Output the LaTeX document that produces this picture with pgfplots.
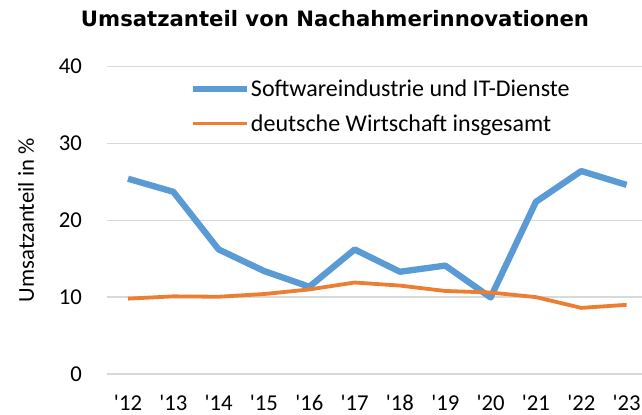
\documentclass[border=0pt]{standalone}
\usepackage{fontspec}
\setmainfont{Carlito}
\newfontfamily\titlefont{DejaVu Sans}
\usepackage{pgfplots}
\pgfplotsset{compat=1.18}
\definecolor{xlblue}{RGB}{91,155,213}
\definecolor{xlorange}{RGB}{237,125,49}
\definecolor{gridgray}{RGB}{217,217,217}
\begin{document}
\begin{tikzpicture}
\useasboundingbox (-106.7bp,-41bp) rectangle (535.3bp,374bp);
\begin{axis}[
  at={(0,0)}, anchor=south west,
  scale only axis, width=535.3bp, height=307.5bp,
  xmin=-0.47, xmax=11.34, ymin=0, ymax=40,
  axis line style={draw=none},
  tick style={draw=none},
  ytick={0,10,20,30,40},
  xtick={0,1,...,11},
  xticklabels={\textquotesingle12,\textquotesingle13,\textquotesingle14,\textquotesingle15,\textquotesingle16,\textquotesingle17,\textquotesingle18,\textquotesingle19,\textquotesingle20,\textquotesingle21,\textquotesingle22,\textquotesingle23},
  ymajorgrids,
  grid style={color=gridgray, line width=1.5bp},
  /pgf/number format/assume math mode=true,
  ticklabel style={font=\fontsize{22.7bp}{27bp}\selectfont, inner sep=0pt},
  yticklabel style={anchor=east, xshift=-24.7bp},
  xticklabel style={anchor=north, yshift=-21bp},
  every axis y label/.style={at={(axis description cs:-0.1508,0.5)}, rotate=90, anchor=center, inner sep=0pt, font=\fontsize{22.7bp}{27bp}\selectfont},
  ylabel={Umsatzanteil in \%},
  title={\titlefont\bfseries Umsatzanteil von Nachahmerinnovationen},
  every axis title/.style={at={(axis description cs:0.4265,1)}, anchor=base, yshift=40.5bp, inner sep=0pt, font=\fontsize{21.2bp}{25bp}\selectfont},
  legend style={at={(axis description cs:0.1556,0.958)}, anchor=north west, draw=none, fill=none, inner sep=0pt, row sep=16.6bp,
    font=\fontsize{24bp}{28bp}\selectfont, nodes={inner sep=0pt}},
  legend cell align=left,
  /tikz/every odd column/.append style={column sep=0.5bp},
  legend image code/.code={\draw[#1] (0bp,0bp) -- (54bp,0bp);},
  line join=round,
]
\addplot[xlblue, line width=6.3bp] coordinates {
(0,25.4) (1,23.7) (2,16.2) (3,13.4) (4,11.35) (5,16.2) (6,13.3) (7,14.1) (8,9.95) (9,22.4) (10,26.4) (11,24.6)};
\addlegendentry{Softwareindustrie und IT-Dienste}
\addplot[xlorange, line width=3.8bp] coordinates {
(0,9.8) (1,10.1) (2,10.05) (3,10.4) (4,11.0) (5,11.9) (6,11.5) (7,10.8) (8,10.6) (9,10.0) (10,8.6) (11,9.0)};
\addlegendentry{deutsche Wirtschaft insgesamt}
\end{axis}
\end{tikzpicture}
\end{document}
